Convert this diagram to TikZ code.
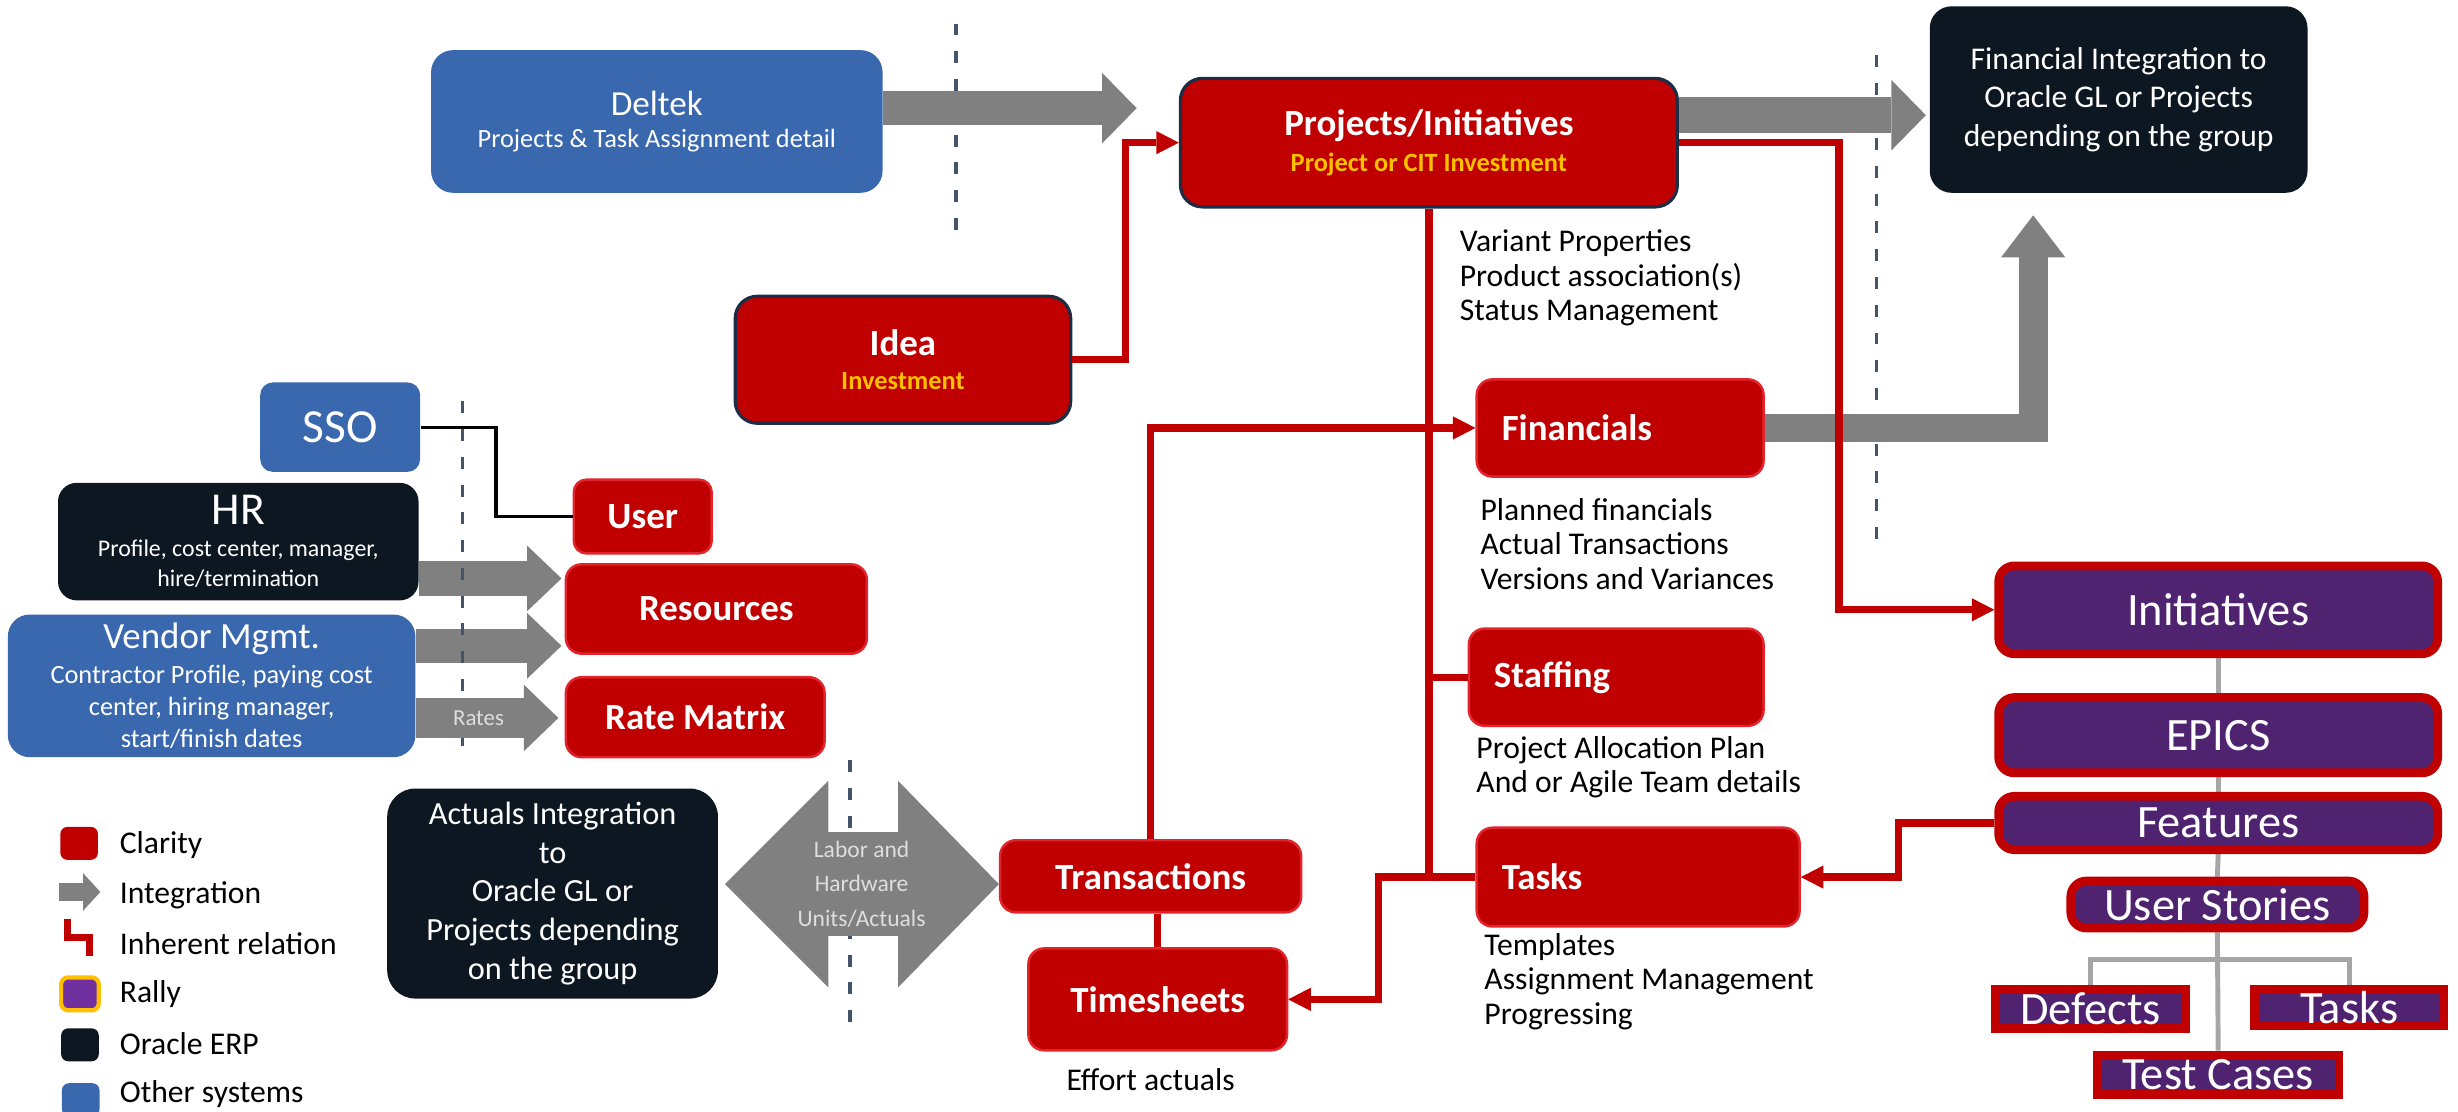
\documentclass[tikz,border=0pt]{standalone}
\usepackage{fontspec}
\setmainfont{Carlito}
\usetikzlibrary{arrows.meta,backgrounds}

\definecolor{clarityred}{RGB}{192,0,0}
\definecolor{clarityedge}{RGB}{226,36,44}
\definecolor{navyedge}{RGB}{30,45,70}
\definecolor{otherblue}{RGB}{58,104,175}
\definecolor{oracledark}{RGB}{12,23,33}
\definecolor{intgray}{RGB}{128,128,128}
\definecolor{treegray}{RGB}{166,166,166}
\definecolor{fencecolor}{RGB}{68,84,106}
\definecolor{amber}{RGB}{255,192,0}
\definecolor{rallypurple}{RGB}{80,35,112}
\definecolor{rallylegend}{RGB}{112,48,160}
\definecolor{paletext}{RGB}{222,222,222}

% one unit of the picture grid
\newlength{\dpx}
\setlength{\dpx}{0.15676mm}

\tikzset{
  sized/.style 2 args={minimum width=#1\dpx, minimum height=#2\dpx},
  box/.style={rounded corners=10\dpx, inner sep=0pt, align=center, text=white},
  other/.style={box, fill=otherblue},
  oracle/.style={box, fill=oracledark},
  clarity/.style={box, fill=clarityred, draw=clarityedge, line width=0.7pt,
    font=\bfseries\fontsize{10.5}{12}\selectfont},
  claritymain/.style={clarity, draw=navyedge, line width=0.9pt, rounded corners=14\dpx},
  leftbox/.style={clarity, align=left, inner xsep=16\dpx, text width=#1\dpx},
  rally/.style={box, fill=rallypurple, draw=clarityred, line width=2.5pt,
    font=\fontsize{13.2}{14}\selectfont},
  note/.style={anchor=west, inner sep=0pt, align=left, font=\fontsize{9}{9.8}\selectfont},
  intg/.style n args={3}{draw=intgray, line width=#1pt,
    -{Triangle[length=#3pt, width=#2pt, line width=0pt]}},
  rel/.style={draw=clarityred, line width=2.1pt,
    -{Triangle[length=6.4pt, width=6.6pt, line width=0pt]}},
  link/.style={draw=clarityred, line width=2.1pt},
  tree/.style={draw=treegray, line width=1.4pt},
  fence/.style={draw=fencecolor, line width=1.1pt, dash pattern=on 3.4pt off 4.5pt},
  legsq/.style={rounded corners=2pt, inner sep=0pt, minimum width=24\dpx, minimum height=21\dpx},
  legtext/.style={anchor=west, inner sep=0pt, font=\fontsize{9}{10}\selectfont},
}

\begin{document}
\begin{tikzpicture}[x=0.15676mm, y=-0.15676mm]
\useasboundingbox (0,0) rectangle (1568,709);

% system boundaries
\draw[fence] (610,15) -- (610,150);
\draw[fence] (1197,35) -- (1197,349);
\draw[fence] (542,485) -- (542,655);

% source systems
\node[other, sized={288}{91}, rounded corners=14\dpx, font=\fontsize{10}{9.1}\selectfont] (deltek) at (419,77.5)
  {Deltek\\{\fontsize{7.5}{9}\selectfont Projects \& Task Assignment detail}};
\node[other, sized={102}{57}, rounded corners=8\dpx, font=\fontsize{13.5}{14}\selectfont] (sso) at (217,272.5) {SSO};
\node[oracle, sized={230}{75}, rounded corners=12\dpx, font=\fontsize{13}{8.5}\selectfont] (hr) at (152,345.5)
  {HR\\[0.6pt]{\fontsize{6.8}{8}\selectfont Profile, cost center, manager,}\\{\fontsize{6.8}{8}\selectfont hire/termination}};
\node[other, sized={260}{91}, rounded corners=14\dpx, font=\fontsize{10.5}{9.1}\selectfont] (vendor) at (135,437.5)
  {Vendor Mgmt.\\[0.7pt]{\fontsize{7.5}{9}\selectfont Contractor Profile, paying cost}\\{\fontsize{7.5}{9}\selectfont center, hiring manager,}\\{\fontsize{7.5}{9}\selectfont start/finish dates}};

% Oracle ERP
\node[oracle, sized={241}{119}, rounded corners=14\dpx, font=\fontsize{9}{11}\selectfont] (finint) at (1351.5,63.5)
  {Financial Integration to\\Oracle GL or Projects\\depending on the group};
\node[oracle, sized={211}{134}, rounded corners=18\dpx, font=\fontsize{9.2}{11}\selectfont] (actuals) at (352.5,570)
  {Actuals Integration\\to\\Oracle GL or\\Projects depending\\on the group};

% Clarity objects
\node[claritymain, sized={317}{82}, font=\bfseries\fontsize{10.5}{10.2}\selectfont] (proj) at (911.5,91)
  {Projects/Initiatives\\{\color{amber}\fontsize{7.5}{9}\selectfont Project or CIT Investment}};
\node[claritymain, sized={214}{81}, font=\bfseries\fontsize{10.5}{9.8}\selectfont] (idea) at (576,229.5)
  {Idea\\{\color{amber}\fontsize{7.5}{9}\selectfont Investment}};
\node[clarity, sized={88}{47}, rounded corners=8\dpx] (user) at (410,329.5) {User};
\node[clarity, sized={192}{57}] (resources) at (457,388.5) {Resources};
\node[clarity, sized={165}{51}] (ratematrix) at (443.5,457.5) {Rate Matrix};
\node[clarity, sized={192}{46}] (transactions) at (734,559) {Transactions};
\node[clarity, sized={165}{65}] (timesheets) at (738.5,637.5) {Timesheets};
\node[leftbox=151, sized={183}{62}] (financials) at (1033.5,273) {Financials};
\node[leftbox=156, sized={188}{62}] (staffing) at (1031,432) {Staffing};
\node[leftbox=174, sized={206}{63}] (tasks) at (1045,559.5) {Tasks};

\node[note] (projnote) at (930.8,177.3) {Variant Properties\\Product association(s)\\Status Management};
\node[note] (finnote) at (944,347) {Planned financials\\Actual Transactions\\Versions and Variances};
\node[note] (staffnote) at (941.4,489.5) {Project Allocation Plan\\And or Agile Team details};
\node[note] (tasknote) at (946.5,626) {Templates\\Assignment Management\\Progressing};
\node[note, anchor=center] (effort) at (734,689) {Effort actuals};

% Rally hierarchy
\node[rally, sized={280}{56}] (initiatives) at (1415,389) {Initiatives};
\node[rally, sized={280}{48}] (epics) at (1415,469) {EPICS};
\node[rally, sized={280}{34}] (features) at (1415,525) {Features};
\node[rally, sized={187}{30}] (stories) at (1414.5,577) {User Stories};
\node[rally, sized={121}{25}, sharp corners] (defects) at (1333.5,643.5) {Defects};
\node[rally, sized={121}{23}, sharp corners] (rtasks) at (1498.5,642.5) {Tasks};
\node[rally, sized={154}{25}, sharp corners] (testcases) at (1415,685.5) {Test Cases};

\begin{scope}[on background layer]
\draw[tree] (initiatives.south) -- (epics.north);
\draw[tree] (epics.south) -- (features.north);
\draw[tree] (features.south) -- (stories.north);
\draw[tree] (stories.south) -- (testcases.north);
\draw[tree] (defects.north) |- (stories.south |- 0,612) -| (rtasks.north);
\end{scope}

% integrations
\draw[intg={9.8}{20}{9.8}, shorten >=12pt] (deltek.east |- 0,69) -- (proj.west |- 0,69);
\draw[intg={10.2}{20}{9.8}, shorten >=0.9pt] (proj.east |- 0,73.5) -- (finint.west |- 0,73.5);
\draw[intg={8.2}{18.3}{12}, shorten >=6.2pt] (financials.east) -| (finint.south -| 1297,0);
\draw[intg={9.8}{18.7}{9.8}, shorten >=0.9pt] (hr.east |- 0,369) -- (resources.west |- 0,369);
\draw[intg={9.8}{18.7}{9.8}, shorten >=0.9pt] (vendor.east |- 0,412) -- (resources.west |- 0,412);
\draw[fence] (295,256) -- (295,480);
\draw[intg={11.6}{18.9}{9.8}, shorten >=1.8pt] (vendor.east |- 0,458)
  -- node[pos=0.42, inner sep=0pt, text=paletext, font=\fontsize{6.5}{7}\selectfont] (rates) {Rates}
  (ratematrix.west |- 0,458);
\draw[draw=intgray, line width=29.4pt,
  {Triangle[length=29.4pt, width=58.8pt, line width=0pt]}-{Triangle[length=28.7pt, width=58.8pt, line width=0pt]},
  shorten <=1.8pt] (actuals.east |- 0,564)
  -- node[pos=0.51, inner sep=0pt, align=center, text=paletext, font=\fontsize{6.7}{9.9}\selectfont] (labor)
  {Labor and\\Hardware\\Units/Actuals} (transactions.west |- 0,564);

% single sign-on
\draw[black, line width=0.9pt] (sso.east) -- ++(48,0) |- (user.west);

% inherent relations
\draw[rel] (idea.east) -- ++(34,0) |- (proj.west);
\draw[rel] (proj.east) -- ++(102,0) |- (initiatives.west);
\draw[link] (proj.south) -- (proj.south |- tasks.west);
\draw[link] (proj.south |- staffing.west) -- (staffing.west);
\draw[rel] (tasks.west) -- ++(-62,0) |- (timesheets.east);
\draw[rel] (transactions.north) |- (financials.west);
\draw[link] (timesheets.north |- transactions.south) -- (timesheets.north);
\draw[rel] (features.west) -- ++(-61,0) |- (tasks.east);

% legend
\node[legsq, fill=clarityred] (legclarity) at (50.5,538) {};
\node[legtext] (tclarity) at (76,539) {Clarity};
\draw[intg={5.3}{10.7}{4.9}] (37.5,569) -- (64,569);
\node[legtext] (tintegration) at (76,571) {Integration};
\draw[link, line width=1.8pt] (43,586) -- (43,598) -- (57,598) -- (57,610);
\node[legtext] (trelation) at (76,602) {Inherent relation};
\node[legsq, fill=rallylegend, draw=amber, line width=1.2pt] (legrally) at (51,634) {};
\node[legtext] (trally) at (76,634) {Rally};
\node[legsq, fill=oracledark] (legoracle) at (51,666.5) {};
\node[legtext] (toracle) at (76,665.5) {Oracle ERP};
\node[legsq, fill=otherblue] (legother) at (51.5,701.5) {};
\node[legtext] (tother) at (76,698) {Other systems};
\end{tikzpicture}
\end{document}
